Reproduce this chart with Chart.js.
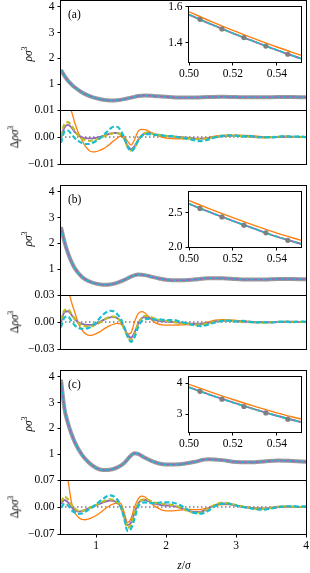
<!DOCTYPE html>
<html lang="en">
<head>
<meta charset="UTF-8" />
<title>Density profiles</title>
<script src="https://cdn.jsdelivr.net/npm/chart.js@4.4.0/dist/chart.umd.min.js"></script>
<style>
  body { margin: 0; background: #fff; }
  #fig { position: relative; width: 310px; height: 573px; overflow: hidden; font-family: 'Liberation Serif', serif; }
  #fig canvas { position: absolute; }
  .lbl { position: absolute; font-size: 11.5px; color: #000; white-space: nowrap; line-height: 1; }
  .rot { transform: translate(-50%, -50%) rotate(-90deg); }
  .ctr { transform: translate(-50%, -50%); }
  sup { font-size: 8px; vertical-align: 5px; line-height: 0; }
</style>
</head>
<body>
<div id="fig"></div>
<script>
// main density profiles
const zMain = [0.5, 0.55, 0.6, 0.65, 0.7, 0.8, 0.9, 1.0, 1.1, 1.2, 1.3, 1.4, 1.5, 1.55, 1.6, 1.7, 1.8, 1.9, 2.0, 2.2, 2.4, 2.6, 2.8, 3.0, 3.2, 3.4, 3.6, 3.8, 4.0];
const rhoA = [1.55, 1.32, 1.13, 0.99, 0.87, 0.68, 0.55, 0.46, 0.40, 0.37, 0.38, 0.42, 0.48, 0.51, 0.54, 0.56, 0.55, 0.53, 0.51, 0.48, 0.48, 0.50, 0.51, 0.50, 0.49, 0.49, 0.50, 0.50, 0.49];
const rhoB = [2.63, 2.05, 1.62, 1.28, 1.02, 0.70, 0.53, 0.44, 0.40, 0.41, 0.47, 0.58, 0.71, 0.76, 0.79, 0.77, 0.70, 0.64, 0.59, 0.57, 0.60, 0.65, 0.65, 0.62, 0.60, 0.60, 0.62, 0.62, 0.61];
const rhoC = [3.88, 2.75, 2.20, 1.78, 1.45, 0.97, 0.67, 0.47, 0.39, 0.40, 0.48, 0.65, 0.95, 1.04, 1.01, 0.86, 0.73, 0.64, 0.60, 0.61, 0.70, 0.80, 0.77, 0.70, 0.69, 0.72, 0.76, 0.74, 0.71];

// deviations
const zDelta = [0.50, 0.55, 0.60, 0.65, 0.70, 0.75, 0.80, 0.85, 0.90, 0.95,
  1.00, 1.05, 1.10, 1.15, 1.20, 1.25, 1.30, 1.35, 1.40, 1.45,
  1.50, 1.55, 1.60, 1.65, 1.70, 1.75, 1.80, 1.85, 1.90, 1.95,
  2.0, 2.1, 2.2, 2.3, 2.4, 2.5, 2.6, 2.7, 2.8, 2.9,
  3.0, 3.1, 3.2, 3.3, 3.4, 3.5, 3.6, 3.7, 3.8, 3.9, 4.0];

const orangeA = [0.0300, 0.0200, 0.0130, 0.0095, 0.0050, 0.0015, -0.0012, -0.0035, -0.0050, -0.0055,
  -0.0054, -0.0050, -0.0044, -0.0036, -0.0026, -0.0015, -0.0005, 0.0002, 0.0001, -0.0015,
  -0.0030, -0.0010, 0.0020, 0.0028, 0.0027, 0.0022, 0.0015, 0.0008, 0.0003, -0.0001,
  -0.0004, -0.0006, -0.0007, -0.0007, -0.0006, -0.0005, -0.0002, 0.0003, 0.0006, 0.0007,
  0.0007, 0.0006, 0.0005, 0.0003, 0.0001, 0.0000, -0.0001, -0.0001, 0.0000, 0.0000, 0.0000];
const purpleA = [0.0000, 0.0035, 0.0045, 0.0035, 0.0018, 0.0006, -0.0001, -0.0004, -0.0005, -0.0005,
  -0.0003, 0.0000, 0.0004, 0.0008, 0.0012, 0.0015, 0.0015, 0.0010, -0.0005, -0.0032,
  -0.0045, -0.0035, -0.0012, 0.0005, 0.0013, 0.0015, 0.0013, 0.0010, 0.0007, 0.0005,
  0.0004, 0.0002, 0.0000, -0.0003, -0.0005, -0.0006, -0.0004, 0.0000, 0.0003, 0.0004,
  0.0004, 0.0003, 0.0002, 0.0000, -0.0001, -0.0001, 0.0000, 0.0001, 0.0001, 0.0000, 0.0000];
const oliveA = [0.0003, 0.0048, 0.0055, 0.0042, 0.0022, 0.0005, -0.0006, -0.0012, -0.0014, -0.0013,
  -0.0010, -0.0005, 0.0001, 0.0007, 0.0011, 0.0014, 0.0014, 0.0009, -0.0006, -0.0035,
  -0.0050, -0.0040, -0.0015, 0.0006, 0.0015, 0.0017, 0.0014, 0.0010, 0.0008, 0.0005,
  0.0004, 0.0001, -0.0001, -0.0004, -0.0007, -0.0008, -0.0005, 0.0000, 0.0004, 0.0005,
  0.0004, 0.0003, 0.0001, -0.0001, -0.0002, 0.0000, 0.0001, 0.0002, 0.0001, 0.0000, 0.0001];
const cyanA = [-0.0022, 0.0020, 0.0024, 0.0010, -0.0005, -0.0015, -0.0022, -0.0026, -0.0026, -0.0022,
  -0.0015, -0.0006, 0.0005, 0.0017, 0.0030, 0.0038, 0.0038, 0.0025, 0.0000, -0.0035,
  -0.0052, -0.0040, -0.0015, 0.0003, 0.0010, 0.0011, 0.0009, 0.0007, 0.0008, 0.0006,
  0.0004, 0.0003, -0.0003, -0.0006, -0.0012, -0.0015, -0.0010, -0.0002, 0.0004, 0.0006,
  0.0005, 0.0002, 0.0004, -0.0001, 0.0000, -0.0002, 0.0001, 0.0003, 0.0001, 0.0002, -0.0001];

const orangeB = [0.0900, 0.0600, 0.0380, 0.0220, 0.0100, -0.0020, -0.0090, -0.0130, -0.0148, -0.0145,
  -0.0130, -0.0110, -0.0085, -0.0060, -0.0040, -0.0025, -0.0015, -0.0020, -0.0060, -0.0135,
  -0.0120, 0.0000, 0.0090, 0.0115, 0.0100, 0.0060, 0.0020, -0.0010, -0.0025, -0.0032,
  -0.0035, -0.0035, -0.0033, -0.0030, -0.0028, -0.0020, 0.0000, 0.0020, 0.0025, 0.0022,
  0.0018, 0.0012, 0.0006, 0.0000, -0.0004, -0.0005, -0.0003, 0.0000, 0.0002, 0.0002, 0.0001];
const purpleB = [0.0000, 0.0110, 0.0120, 0.0080, 0.0030, -0.0005, -0.0020, -0.0030, -0.0032, -0.0030,
  -0.0020, 0.0000, 0.0020, 0.0040, 0.0052, 0.0055, 0.0045, 0.0010, -0.0060, -0.0140,
  -0.0175, -0.0120, -0.0020, 0.0040, 0.0055, 0.0050, 0.0035, 0.0020, 0.0012, 0.0008,
  0.0005, 0.0000, -0.0008, -0.0015, -0.0020, -0.0020, -0.0010, 0.0005, 0.0012, 0.0012,
  0.0008, 0.0004, 0.0000, -0.0003, -0.0004, -0.0002, 0.0000, 0.0002, 0.0002, 0.0001, 0.0000];
const oliveB = [0.0020, 0.0130, 0.0140, 0.0090, 0.0030, -0.0015, -0.0035, -0.0048, -0.0050, -0.0045,
  -0.0030, -0.0010, 0.0015, 0.0040, 0.0058, 0.0060, 0.0048, 0.0008, -0.0070, -0.0160,
  -0.0200, -0.0140, -0.0030, 0.0040, 0.0068, 0.0065, 0.0050, 0.0035, 0.0025, 0.0018,
  0.0012, 0.0002, -0.0008, -0.0020, -0.0030, -0.0030, -0.0015, 0.0005, 0.0015, 0.0015,
  0.0010, 0.0003, -0.0002, -0.0005, -0.0006, -0.0002, 0.0002, 0.0003, 0.0002, 0.0000, 0.0001];
const cyanB = [-0.0060, 0.0050, 0.0060, 0.0010, -0.0040, -0.0065, -0.0075, -0.0075, -0.0065, -0.0040,
  -0.0005, 0.0040, 0.0080, 0.0110, 0.0125, 0.0120, 0.0090, 0.0040, -0.0050, -0.0160,
  -0.0220, -0.0170, -0.0060, 0.0010, 0.0030, 0.0035, 0.0030, 0.0028, 0.0030, 0.0025,
  0.0020, 0.0022, 0.0005, -0.0015, -0.0035, -0.0045, -0.0030, -0.0005, 0.0010, 0.0015,
  0.0008, 0.0012, 0.0002, -0.0004, -0.0002, -0.0008, 0.0002, 0.0004, -0.0002, 0.0006, 0.0002];

const orangeC = [0.2500, 0.1200, 0.0700, 0.0120, -0.0150, -0.0270, -0.0320, -0.0330, -0.0310, -0.0270,
  -0.0220, -0.0160, -0.0090, -0.0020, 0.0040, 0.0080, 0.0100, 0.0100, -0.0120, -0.0400,
  -0.0300, 0.0000, 0.0200, 0.0280, 0.0260, 0.0170, 0.0080, 0.0010, -0.0040, -0.0080,
  -0.0100, -0.0100, -0.0080, -0.0060, -0.0070, -0.0060, -0.0020, 0.0030, 0.0060, 0.0060,
  0.0040, 0.0010, -0.0010, -0.0030, -0.0040, -0.0030, -0.0010, 0.0000, 0.0010, 0.0010, 0.0000];
const purpleC = [0.0080, 0.0180, 0.0120, 0.0000, -0.0080, -0.0120, -0.0110, -0.0070, -0.0030, 0.0000,
  0.0040, 0.0080, 0.0120, 0.0150, 0.0170, 0.0160, 0.0110, 0.0010, -0.0220, -0.0470,
  -0.0400, -0.0150, 0.0080, 0.0170, 0.0180, 0.0150, 0.0110, 0.0080, 0.0060, 0.0050,
  0.0040, 0.0030, -0.0020, -0.0080, -0.0130, -0.0120, -0.0040, 0.0050, 0.0090, 0.0080,
  0.0040, 0.0000, -0.0020, -0.0040, -0.0040, -0.0020, 0.0000, 0.0010, 0.0010, 0.0000, 0.0000];
const oliveC = [0.0120, 0.0270, 0.0200, 0.0050, -0.0040, -0.0100, -0.0100, -0.0070, -0.0030, 0.0010,
  0.0050, 0.0100, 0.0140, 0.0180, 0.0200, 0.0190, 0.0130, 0.0010, -0.0250, -0.0540,
  -0.0460, -0.0180, 0.0080, 0.0180, 0.0200, 0.0180, 0.0140, 0.0110, 0.0090, 0.0080,
  0.0070, 0.0050, -0.0010, -0.0090, -0.0150, -0.0140, -0.0050, 0.0060, 0.0110, 0.0100,
  0.0050, 0.0010, -0.0020, -0.0050, -0.0050, -0.0020, 0.0010, 0.0020, 0.0010, 0.0000, 0.0010];
const cyanC = [-0.0020, 0.0080, 0.0040, -0.0080, -0.0150, -0.0180, -0.0170, -0.0120, -0.0060, 0.0000,
  0.0070, 0.0140, 0.0210, 0.0270, 0.0300, 0.0280, 0.0200, 0.0040, -0.0280, -0.0620,
  -0.0560, -0.0300, 0.0000, 0.0100, 0.0120, 0.0110, 0.0100, 0.0100, 0.0110, 0.0120,
  0.0120, 0.0110, 0.0050, -0.0060, -0.0150, -0.0170, -0.0100, 0.0020, 0.0080, 0.0080,
  0.0040, 0.0000, -0.0030, -0.0060, -0.0070, -0.0040, -0.0010, 0.0020, 0.0020, 0.0010, 0.0020];

const zeroZ = [0.5, 4.0];
const zeroLine = [0, 0];

// insets near the wall
const insetZ = [0.500, 0.510, 0.520, 0.530, 0.540, 0.551];
const markZ = [0.505, 0.515, 0.525, 0.535, 0.545];
const insetLineA = [1.556, 1.503, 1.453, 1.406, 1.360, 1.313];
const insetOrangeA = [1.572, 1.519, 1.469, 1.422, 1.377, 1.331];
const markA = [1.530, 1.477, 1.429, 1.382, 1.337];
const insetLineB = [2.632, 2.504, 2.381, 2.264, 2.152, 2.046];
const insetOrangeB = [2.680, 2.552, 2.430, 2.314, 2.203, 2.098];
const markB = [2.565, 2.440, 2.320, 2.207, 2.098];
const insetLineC = [3.875, 3.620, 3.385, 3.160, 2.955, 2.750];
const insetOrangeC = [3.970, 3.720, 3.480, 3.260, 3.050, 2.850];
const markC = [3.745, 3.490, 3.255, 3.045, 2.845];

const ORANGE = '#ff7f0e', PURPLE = '#9467bd', OLIVE = '#bcbd22', CYAN = '#17becf', GRAY = '#7f7f7f';
const font = { family: 'Liberation Serif', size: 11.5 };
const fig = document.getElementById('fig');

// box around each axes
const frame = {
  id: 'frame',
  afterDraw(chart) {
    const a = chart.chartArea, ctx = chart.ctx;
    ctx.save();
    ctx.strokeStyle = '#000';
    ctx.lineWidth = 1;
    ctx.strokeRect(a.left - 0.5, a.top + 0.5, a.right - a.left + 1, a.bottom - a.top);
    ctx.restore();
  }
};

function line(xs, ys, color, width, dash, order) {
  return {
    data: xs.map((x, i) => ({ x: x, y: ys[i] })),
    borderColor: color, borderWidth: width, borderDash: dash || [],
    pointRadius: 0, fill: false, cubicInterpolationMode: 'monotone',
    order: order, clip: 0
  };
}

function marks(xs, ys, order) {
  return {
    data: xs.map((x, i) => ({ x: x, y: ys[i] })),
    showLine: false, pointRadius: 2.6, pointBackgroundColor: GRAY,
    pointBorderWidth: 0, order: order, clip: 0
  };
}

// keep the chart area exactly where we put it
function noPad(s) {
  s.paddingTop = 0; s.paddingBottom = 0; s.paddingLeft = 0; s.paddingRight = 0;
}

function addChart(c) {
  const p = c.pad;
  const W = c.w + p.l + p.r, H = c.h + p.t + p.b;
  const cv = document.createElement('canvas');
  cv.width = W; cv.height = H;
  cv.style.left = (c.x - p.l) + 'px';
  cv.style.top = (c.y - p.t) + 'px';
  cv.style.width = W + 'px';
  cv.style.height = H + 'px';
  fig.appendChild(cv);
  const tickGrid = { drawOnChartArea: false, drawTicks: true, tickLength: 3.5, color: '#000', tickColor: '#000', lineWidth: 1 };
  return new Chart(cv, {
    type: 'line',
    data: { datasets: c.datasets },
    options: {
      responsive: false, animation: false, devicePixelRatio: 1,
      layout: { padding: { top: p.t, right: p.r, left: 0, bottom: 0 } },
      plugins: { legend: { display: false }, tooltip: { enabled: false } },
      scales: {
        x: {
          type: 'linear', min: c.xr[0], max: c.xr[1], display: c.xShow,
          afterBuildTicks: s => { s.ticks = c.xTicks.map(v => ({ value: v })); },
          afterFit: s => { s.height = p.b; noPad(s); },
          grid: tickGrid, border: { display: false },
          ticks: { display: !!c.xFmt, callback: c.xFmt, font: font, color: '#000', padding: 2, maxRotation: 0, autoSkip: false }
        },
        y: {
          type: 'linear', min: c.yr[0], max: c.yr[1],
          afterBuildTicks: s => { s.ticks = c.yTicks.map(v => ({ value: v })); },
          afterFit: s => { s.width = p.l; noPad(s); },
          grid: tickGrid, border: { display: false },
          ticks: { callback: c.yFmt, font: font, color: '#000', padding: 3, autoSkip: false }
        }
      }
    },
    plugins: [frame]
  });
}

function label(html, x, y, cls) {
  const d = document.createElement('div');
  d.className = 'lbl ' + cls;
  d.style.left = x + 'px';
  d.style.top = y + 'px';
  d.innerHTML = html;
  fig.appendChild(d);
}

const minus = s => s.replace('-', '\u2212');

const panels = [
  { top: 0, tag: '(a)', rho: rhoA, d: [orangeA, purpleA, oliveA, cyanA], lim: 0.01,
    inLine: insetLineA, inOrange: insetOrangeA, mark: markA, inR: [1.294, 1.604], inTicks: [1.4, 1.6], inDig: 1 },
  { top: 185, tag: '(b)', rho: rhoB, d: [orangeB, purpleB, oliveB, cyanB], lim: 0.03,
    inLine: insetLineB, inOrange: insetOrangeB, mark: markB, inR: [2.0, 2.82], inTicks: [2.0, 2.5], inDig: 1 },
  { top: 370, tag: '(c)', rho: rhoC, d: [orangeC, purpleC, oliveC, cyanC], lim: 0.07,
    inLine: insetLineC, inOrange: insetOrangeC, mark: markC, inR: [2.43, 4.24], inTicks: [3, 4], inDig: 0 }
];

panels.forEach((pn, k) => {
  const last = k === panels.length - 1;
  // density
  addChart({
    x: 61, y: pn.top, w: 245, h: 110, pad: { l: 61, r: 4, t: 8, b: 0 },
    xr: [0.5, 4], yr: [0, 4.26], xTicks: [1, 2, 3, 4], xShow: false,
    yTicks: [1, 2, 3, 4], yFmt: v => String(v),
    datasets: [
      line(zMain, pn.rho, 'rgba(127,127,127,0.8)', 4, null, 5),
      line(zMain, pn.rho, PURPLE, 1.5, null, 4),
      line(zMain, pn.rho, CYAN, 1.5, [3, 3], 3)
    ]
  });
  // deviation
  addChart({
    x: 61, y: pn.top + 110, w: 245, h: 54, pad: { l: 61, r: 4, t: 8, b: last ? 24 : 6 },
    xr: [0.5, 4], yr: [-pn.lim, pn.lim], xTicks: [1, 2, 3, 4], xShow: true,
    xFmt: last ? (v => String(v)) : null,
    yTicks: [-pn.lim, 0, pn.lim], yFmt: v => minus(v.toFixed(2)),
    datasets: [
      line(zeroZ, zeroLine, GRAY, 1.5, [1.5, 2.5], 9),
      line(zDelta, pn.d[0], ORANGE, 1.3, null, 6),
      line(zDelta, pn.d[1], PURPLE, 1.9, null, 5),
      line(zDelta, pn.d[2], OLIVE, 2.2, [5, 2.5], 4),
      line(zDelta, pn.d[3], CYAN, 2.2, [5, 2.5], 3)
    ]
  });
  // inset
  addChart({
    x: 189, y: pn.top + 6, w: 112, h: 56, pad: { l: 32, r: 5, t: 8, b: 20 },
    xr: [0.5, 0.551], yr: pn.inR, xTicks: [0.50, 0.52, 0.54], xShow: true,
    xFmt: v => v.toFixed(2),
    yTicks: pn.inTicks, yFmt: v => v.toFixed(pn.inDig),
    datasets: [
      line(insetZ, pn.inOrange, ORANGE, 1.4, null, 6),
      line(insetZ, pn.inLine, PURPLE, 1.9, null, 5),
      line(insetZ, pn.inLine, OLIVE, 1.6, [4, 2.5], 4),
      line(insetZ, pn.inLine, CYAN, 1.6, [4, 2.5], 3),
      marks(markZ, pn.mark, 1)
    ]
  });
  label(pn.tag, 68, pn.top + 9, '');
  label('<i>ρσ</i><sup>3</sup>', 29, pn.top + 54, 'rot');
  label('Δ<i>ρσ</i><sup>3</sup>', 15, pn.top + 137, 'rot');
});

label('<i>z</i>/<i>σ</i>', 184, 566, 'ctr');
</script>
</body>
</html>
